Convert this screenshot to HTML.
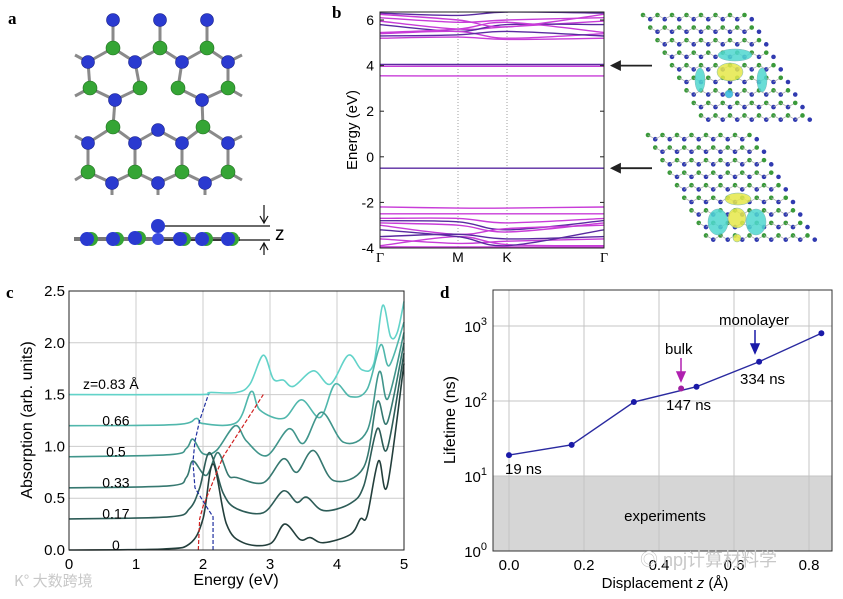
<!DOCTYPE html>
<html><head><meta charset="utf-8">
<style>
html,body{margin:0;padding:0;background:#fff;}
svg{display:block;font-family:"Liberation Sans","DejaVu Sans",sans-serif;}
.pl{font-family:"Liberation Serif",serif;font-weight:bold;font-size:17px;}
</style></head>
<body>
<svg id="fig" width="843" height="599" viewBox="0 0 843 599">
<rect width="843" height="599" fill="#fff"/>
<text class="pl" x="8" y="24">a</text>
<text class="pl" x="332" y="18">b</text>
<text class="pl" x="6" y="298">c</text>
<text class="pl" x="440" y="298">d</text>
<g id="pa"></g>
<g id="pb"></g>
<g id="pbi"></g>
<g id="pc"></g>
<g id="pd"></g>
</svg>
<script>
// ---------- Panel c data ----------
const cLabels = ["0","0.17","0.33","0.5","0.66","z=0.83 Å"];
const cColors = ["#233f3c","#2d5c57","#367870","#40958b","#50b7ac","#62d3c9"];
const cE0 = [0,1.4,1.8,2.0,2.15,2.35,2.6,3.0,3.22,3.45,3.6,3.8,4.2,4.35,4.45,4.62,4.75,5];
const cA0 = [0,0.01,0.06,0.3,0.83,0.25,0.07,0.06,0.25,0.1,0.12,0.07,0.15,0.3,0.33,0.86,0.62,1.8];
const cE1 = [0,1.5,1.8,1.95,2.1,2.3,2.5,2.9,3.2,3.4,3.55,3.8,4.2,4.4,4.6,4.75,5];
const cA1 = [0.3,0.32,0.4,0.6,0.94,0.55,0.4,0.36,0.57,0.46,0.51,0.38,0.45,0.62,1.17,0.98,1.9];
const cE2 = [0,1.5,1.75,1.85,2.05,2.22,2.38,2.5,2.9,3.2,3.4,3.65,3.95,4.4,4.6,4.75,5];
const cA2 = [0.6,0.62,0.7,0.86,0.72,0.94,0.72,0.7,0.65,0.88,0.75,0.96,0.67,0.8,1.43,1.23,2.0];
const cE3 = [0,1.5,1.75,1.85,2.0,2.2,2.48,2.65,2.95,3.28,3.5,3.77,4.1,4.45,4.63,4.76,5];
const cA3 = [0.9,0.92,0.98,1.07,0.93,0.96,1.2,1.05,0.91,1.17,1.03,1.33,1.04,1.15,1.72,1.46,2.1];
const cE4 = [0,1.6,1.9,2.0,2.5,2.72,2.85,3.2,3.47,3.75,3.97,4.2,4.45,4.65,4.78,5];
const cA4 = [1.2,1.21,1.27,1.22,1.23,1.53,1.35,1.27,1.45,1.28,1.6,1.48,1.55,1.98,1.78,2.2];
const cE5 = [0,1.9,2.1,2.5,2.7,2.9,3.05,3.2,3.35,3.65,3.9,4.17,4.37,4.55,4.68,4.8,4.9,5];
const cA5 = [1.5,1.5,1.52,1.52,1.6,1.88,1.65,1.64,1.58,1.73,1.6,1.88,1.74,1.8,2.36,2.06,2.1,2.4];
const cBlueE = [2.15,2.15,2.05,1.88,1.85,1.88,1.95,2.08];
const cBlueA = [0,0.32,0.42,0.6,0.85,1.05,1.25,1.5];
const cRedE = [1.93,1.95,2.0,2.3,2.6,2.9];
const cRedA = [0,0.3,0.42,0.9,1.2,1.5];
const cXTicks = [0,1,2,3,4,5];
const cYTicks = ["0.0","0.5","1.0","1.5","2.0","2.5"];
const cLabelY = [0.05,0.35,0.65,0.95,1.25,1.6];
// ---------- Panel d data ----------
const dZ = [0,0.167,0.333,0.5,0.667,0.833];
const dLife = [19,26,97,155,334,800];
const dBulkZ = 0.459, dBulkLife = 147;
const dXTicks = ["0.0","0.2","0.4","0.6","0.8"];
const dYExp = [0,1,2,3];
// ---------- Panel b data ----------
const bKLabels = ["Γ","M","K","Γ"];
const bBands = [
 [6.3,6.2,6.35,6.3],[6.1,5.9,6.0,6.1],[5.95,5.6,5.7,5.95],[5.8,5.5,5.8,5.8],[5.45,5.6,5.9,5.45],
 [5.4,5.5,5.2,5.4],[5.3,5.35,5.5,5.3],[5.2,5.25,5.15,5.2],[6.25,6.0,5.7,6.25],
 [4.05,4.05,4.05,4.05],[3.97,3.97,3.97,3.97],[3.55,3.55,3.55,3.55],[-0.5,-0.5,-0.5,-0.5],
 [-2.2,-2.25,-2.25,-2.2],[-2.5,-2.5,-2.5,-2.5],[-2.8,-2.85,-3.2,-2.8],[-2.9,-3.0,-3.3,-2.9],
 [-3.0,-3.4,-3.15,-3.0],[-3.5,-3.4,-3.6,-3.5],[-3.6,-3.8,-3.7,-3.6],[-3.9,-3.5,-3.85,-3.9],
 [-3.2,-3.5,-3.9,-3.2],[-3.95,-3.95,-3.95,-3.95],[-2.7,-2.7,-2.9,-2.7]
];
const bTicks = [-4,-2,0,2,4,6];

const NS="http://www.w3.org/2000/svg";
function mk(parent,tag,attrs,txt){const e=document.createElementNS(NS,tag);for(const k in attrs)e.setAttribute(k,attrs[k]);if(txt!==undefined)e.textContent=txt;parent.appendChild(e);return e;}
function smooth(pts){let d="M"+pts[0][0]+","+pts[0][1];for(let i=0;i<pts.length-1;i++){const p0=pts[i-1]||pts[i],p1=pts[i],p2=pts[i+1],p3=pts[i+2]||p2;const c1=[p1[0]+(p2[0]-p0[0])/6,p1[1]+(p2[1]-p0[1])/6],c2=[p2[0]-(p3[0]-p1[0])/6,p2[1]-(p3[1]-p1[1])/6];d+=" C"+c1[0].toFixed(1)+","+c1[1].toFixed(1)+" "+c2[0].toFixed(1)+","+c2[1].toFixed(1)+" "+p2[0].toFixed(1)+","+p2[1].toFixed(1);}return d;}

// ================= Panel c =================
(function(){
const g=document.getElementById('pc');
const L=69,R=404,T=291,B=550;
const xs=e=>L+(e/5)*(R-L), ys=a=>B-(a/2.5)*(B-T);
cXTicks.forEach(t=>{const l=mk(g,'line',{x1:xs(t),x2:xs(t),y1:T,y2:B,stroke:'#ccc','stroke-width':1});
 const tx=mk(g,'text',{x:xs(t),y:B+19,'text-anchor':'middle','font-size':15},String(t));});
cYTicks.forEach(t=>{const v=parseFloat(t);const l=mk(g,'line',{x1:L,x2:R,y1:ys(v),y2:ys(v),stroke:'#ccc','stroke-width':1});
 const tx=mk(g,'text',{x:L-4,y:ys(v)+5,'text-anchor':'end','font-size':15},t);});
const Es=[cE0,cE1,cE2,cE3,cE4,cE5],As=[cA0,cA1,cA2,cA3,cA4,cA5];
for(let i=5;i>=0;i--){const p=mk(g,'path',{d:smooth(Es[i].map((e,j)=>[xs(e),ys(As[i][j])])),fill:'none',stroke:cColors[i],'stroke-width':1.6});
 }
cLabels.forEach((s,i)=>{const tx=mk(g,'text',{x:i==5?83:xs(0.7),y:ys(cLabelY[i])+5,'text-anchor':i==5?'start':'middle','font-size':14},s);});
const bl=mk(g,'polyline',{points:cBlueE.map((e,j)=>xs(e)+","+ys(cBlueA[j])).join(" "),fill:'none',stroke:'#2030a0','stroke-width':1.2,'stroke-dasharray':'4,2'});

const rl=mk(g,'polyline',{points:cRedE.map((e,j)=>xs(e)+","+ys(cRedA[j])).join(" "),fill:'none',stroke:'#d02020','stroke-width':1.2,'stroke-dasharray':'4,2'});

const fr=mk(g,'rect',{x:L,y:T,width:R-L,height:B-T,fill:'none',stroke:'#222','stroke-width':1});
const xl=mk(g,'text',{x:236,y:585,'text-anchor':'middle','font-size':16},'Energy (eV)');
const yl=mk(g,'text',{x:0,y:0,'text-anchor':'middle','font-size':16,transform:'translate(32,420) rotate(-90)'},'Absorption (arb. units)');
const wm=mk(g,'text',{x:14,y:586,'font-size':15,fill:'#c8c8c8','font-family':'"Noto Sans CJK SC",sans-serif'},'K° 大数跨境');
})();

// ================= Panel d =================
(function(){
const g=document.getElementById('pd');
const L=493,R=832,T=290,B=551;
const xs=z=>509+z*375, ys=v=>B-Math.log10(v)*75;
const ex=mk(g,'rect',{x:L,y:ys(10),width:R-L,height:B-ys(10),fill:'#d6d6d6'});
dXTicks.forEach(t=>{const x=xs(parseFloat(t));const l=mk(g,'line',{x1:x,x2:x,y1:T,y2:B,stroke:'#c4c4c4'});
 const tx=mk(g,'text',{x:x,y:B+19,'text-anchor':'middle','font-size':15},t);});
dYExp.forEach(k=>{const y=ys(Math.pow(10,k));const l=mk(g,'line',{x1:L,x2:R,y1:y,y2:y,stroke:'#c4c4c4'});
 const tx=mk(g,'text',{x:L-6,y:y+6,'text-anchor':'end','font-size':15},'10');
 mk(tx,'tspan',{dy:-7,'font-size':11},String(k));});
const et=mk(g,'text',{x:665,y:521,'text-anchor':'middle','font-size':15},'experiments');
const ln=mk(g,'polyline',{points:dZ.map((z,i)=>xs(z)+","+ys(dLife[i])).join(" "),fill:'none',stroke:'#2a2aa0','stroke-width':1.4});
dZ.forEach((z,i)=>{const c=mk(g,'circle',{cx:xs(z),cy:ys(dLife[i]),r:3,fill:'#1a1aa8'});});
const bk=mk(g,'circle',{cx:xs(dBulkZ),cy:ys(dBulkLife),r:3,fill:'#a020a0'});
const fr=mk(g,'rect',{x:L,y:T,width:R-L,height:B-T,fill:'none',stroke:'#333'});
function ann(x,y,s,n){const t=mk(g,'text',{x:x,y:y,'font-size':15},s);}
ann(505,474,'19 ns','label-19ns');ann(666,410,'147 ns','label-147ns');ann(740,384,'334 ns','label-334ns');ann(665,354,'bulk','bulk-label');ann(719,325,'monolayer','monolayer-label');
const a1=mk(g,'path',{d:'M681,358 L681,378 M677,372 L681,381 L685,372 Z',stroke:'#b020b0',fill:'#b020b0','stroke-width':1.5});
const a2=mk(g,'path',{d:'M755,330 L755,350 M751,344 L755,353 L759,344 Z',stroke:'#1a1aa8',fill:'#1a1aa8','stroke-width':1.5});
const xl=mk(g,'text',{x:665,y:588,'text-anchor':'middle','font-size':15},'Displacement ');
mk(xl,'tspan',{'font-style':'italic'},'z');mk(xl,'tspan',{},' (Å)');
const yl=mk(g,'text',{x:0,y:0,'text-anchor':'middle','font-size':16,transform:'translate(455,420) rotate(-90)'},'Lifetime (ns)');
const wm=mk(g,'text',{x:640,y:566,'font-size':18,fill:'#c8c8c8','font-family':'"Liberation Sans","Noto Sans CJK SC",sans-serif'},'◎ npj计算材料学');
})();

// ================= Panel b =================
(function(){
const g=document.getElementById('pb');
const L=380,R=604,T=12,B=248;
const kx=[L,458,507,R];
const ys=e=>20+(6-e)*22.8;
const cp=mk(g,'clipPath',{id:'bclip'});mk(cp,'rect',{x:L,y:T,width:R-L,height:B-T});
[458,507].forEach(x=>{const l=mk(g,'line',{x1:x,x2:x,y1:T,y2:B,stroke:'#888','stroke-dasharray':'1,2','stroke-width':0.8});});
const bg=mk(g,'g',{'clip-path':'url(#bclip)'});
bBands.forEach((b,i)=>{const p=mk(bg,'path',{d:smooth(b.map((e,j)=>[kx[j],ys(e)])),fill:'none',stroke:(i%3==0)?'#5a2aa0':'#c83cd8','stroke-width':1.4});
 });
const fr=mk(g,'rect',{x:L,y:T,width:R-L,height:B-T,fill:'none',stroke:'#222'});
bTicks.forEach(t=>{const y=ys(t);mk(g,'line',{x1:L,x2:L+4,y1:y,y2:y,stroke:'#222'});mk(g,'line',{x1:R-4,x2:R,y1:y,y2:y,stroke:'#222'});
 const tx=mk(g,'text',{x:L-6,y:y+5,'text-anchor':'end','font-size':14},String(t));});
bKLabels.forEach((s,i)=>{const tx=mk(g,'text',{x:kx[i],y:262,'text-anchor':'middle','font-size':14,'font-family':i==0||i==3?'"Liberation Serif",serif':'inherit'},s);});
const yl=mk(g,'text',{x:0,y:0,'text-anchor':'middle','font-size':15,transform:'translate(357,130) rotate(-90)'},'Energy (eV)');
[4.0,-0.5].forEach(e=>{const a=mk(g,'path',{d:`M612,${ys(e)} L652,${ys(e)} M612,${ys(e)} l8,-4 l0,8 Z`,stroke:'#222',fill:'#222','stroke-width':1.8});});
})();

// ================= Panel b images =================
(function(){
const g=document.getElementById('pbi');
function lattice(ox,oy,n,m,step){
 for(let i=0;i<m;i++)for(let j=0;j<n;j++){
  const x=ox+j*step+i*step*0.5, y=oy+i*step*0.866;
  for(let k=0;k<2;k++){const xx=x+(k?step*0.5:0),yy=y+(k?step*0.29:0);
   const c=mk(g,'circle',{cx:xx,cy:yy,r:2.3,fill:k?'#303ab0':'#3a9a3a'});
   if(j<n-1){mk(g,'line',{x1:xx,y1:yy,x2:xx+step*0.5,y2:yy+(k?-step*0.29:step*0.29),stroke:'#aaa','stroke-width':0.7});}}
 }}
lattice(643,15,8,9,14.5);
lattice(648,135,8,9,14.5);
function blob(cx,cy,rx,ry,col,n){const e=mk(g,'ellipse',{cx:cx,cy:cy,rx:rx,ry:ry,fill:col,opacity:0.85,stroke:'#6aa','stroke-width':0.5});}
blob(735,55,17,6,'#4fd8d0','orbital-lobe');blob(700,80,5,12,'#4fd8d0','orbital-lobe');blob(762,80,5,12,'#4fd8d0','orbital-lobe');
blob(730,72,13,9,'#e6e84a','orbital-lobe');blob(729,94,4,4,'#30b8e0','orbital-lobe');
blob(738,199,13,6,'#e6e84a','orbital-lobe');blob(718,222,10,13,'#4fd8d0','orbital-lobe');blob(756,222,10,13,'#4fd8d0','orbital-lobe');
blob(737,218,9,10,'#e6e84a','orbital-lobe');blob(737,238,4,4,'#e6e84a','orbital-lobe');
})();

// ================= Panel a =================
(function(){
const g=document.getElementById('pa');
const blue=[[113,20],[160,20],[207,20],[88,62],[135,62],[182,62],[228,62],[115,100],[202,100],[158,130],[88,143],[135,143],[182,143],[228,143],[112,183],[158,183],[205,183]];
const green=[[113,48],[160,48],[207,48],[90,88],[140,88],[178,88],[228,88],[113,127],[203,127],[88,172],[135,172],[182,172],[228,172]];
const all=blue.concat(green);
for(let i=0;i<all.length;i++)for(let j=i+1;j<all.length;j++){const d=Math.hypot(all[i][0]-all[j][0],all[i][1]-all[j][1]);if(d<33){const l=mk(g,'line',{x1:all[i][0],y1:all[i][1],x2:all[j][0],y2:all[j][1],stroke:'#8a8a8a','stroke-width':3});}}
[[88,62,75,55],[228,62,242,55],[90,88,75,96],[228,88,242,96],[88,143,75,136],[228,143,242,136],[88,172,75,180],[228,172,242,180],[112,183,112,195],[158,183,158,195],[205,183,205,195]].forEach(s=>mk(g,'line',{x1:s[0],y1:s[1],x2:s[2],y2:s[3],stroke:'#8a8a8a','stroke-width':3}));
green.forEach(p=>{const c=mk(g,'circle',{cx:p[0],cy:p[1],r:7,fill:'#35a535',stroke:'#1e6e1e','stroke-width':0.6});});
blue.forEach(p=>{const c=mk(g,'circle',{cx:p[0],cy:p[1],r:6.5,fill:'#2a3ad0',stroke:'#18208a','stroke-width':0.6});});
// side view
mk(g,'line',{x1:74,y1:239,x2:240,y2:239,stroke:'#777','stroke-width':4});
mk(g,'line',{x1:158,y1:226,x2:270,y2:226,stroke:'#111','stroke-width':1.3});
mk(g,'line',{x1:158,y1:240,x2:270,y2:240,stroke:'#111','stroke-width':1.3});
[[87,239],[113,239],[135,238],[180,239],[202,239],[228,239]].forEach((p,i)=>{mk(g,'circle',{cx:p[0]+4,cy:p[1],r:7,fill:'#35a535'});const c=mk(g,'circle',{cx:p[0],cy:p[1],r:7,fill:'#2a3ad0'});});
mk(g,'circle',{cx:158,cy:226,r:7,fill:'#2a3ad0'});mk(g,'circle',{cx:158,cy:239,r:6,fill:'#3a4ae0'});
mk(g,'path',{d:'M264,205 L264,222 M260,216 L264,223 L268,216',stroke:'#111',fill:'none','stroke-width':1.2});
mk(g,'path',{d:'M264,255 L264,244 M260,250 L264,243 L268,250',stroke:'#111',fill:'none','stroke-width':1.2});
const z=mk(g,'text',{x:275,y:240,'font-size':19},'z');
})();
</script>
</body></html>
